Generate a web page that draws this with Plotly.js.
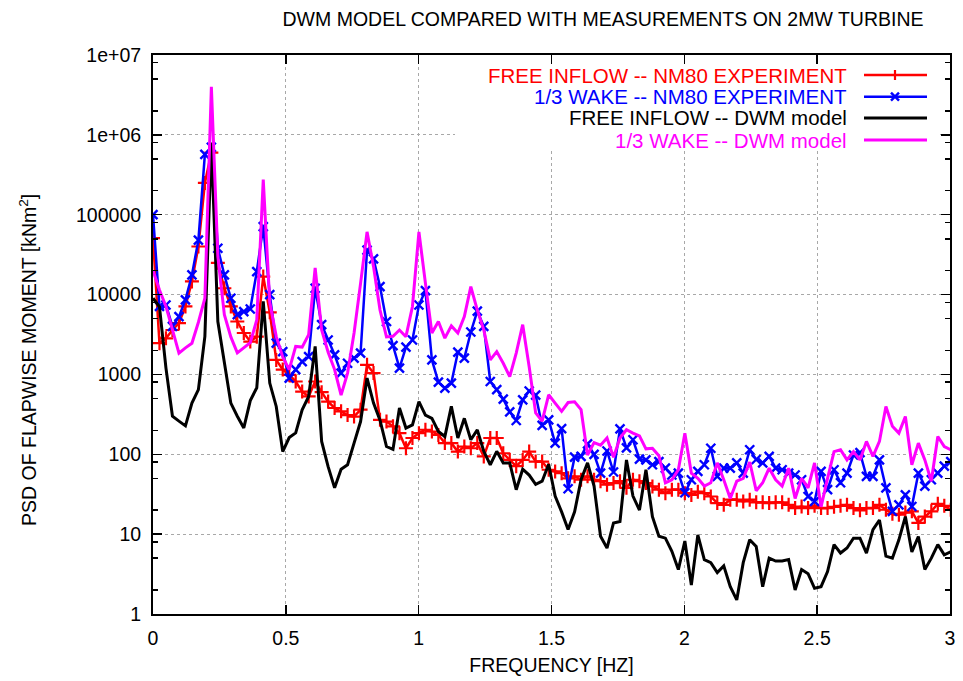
<!DOCTYPE html>
<html>
<head>
<meta charset="utf-8">
<script src="https://cdn.plot.ly/plotly-3.0.1.min.js"></script>
<style>
html,body{margin:0;padding:0;background:#fff;}
#chart{width:963px;height:681px;}
</style>
</head>
<body>
<div id="chart"></div>
<script>
// Frequency bins [Hz]
const freq = [0,0.0244,0.0488,0.0732,0.0977,0.1221,0.1465,0.1709,0.1953,0.2197,
0.2441,0.2686,0.2930,0.3174,0.3418,0.3662,0.3906,0.4150,0.4395,0.4639,
0.4883,0.5127,0.5371,0.5615,0.5859,0.6104,0.6348,0.6592,0.6836,0.7080,
0.7324,0.7568,0.7813,0.8057,0.8301,0.8545,0.8789,0.9033,0.9277,0.9521,
0.9766,1.0010,1.0254,1.0498,1.0742,1.0986,1.1230,1.1475,1.1719,1.1963,
1.2207,1.2451,1.2695,1.2939,1.3184,1.3428,1.3672,1.3916,1.4160,1.4404,
1.4648,1.4893,1.5137,1.5381,1.5625,1.5869,1.6113,1.6357,1.6602,1.6846,
1.7090,1.7334,1.7578,1.7822,1.8066,1.8311,1.8555,1.8799,1.9043,1.9287,
1.9531,1.9775,2.0020,2.0264,2.0508,2.0752,2.0996,2.1240,2.1484,2.1729,
2.1973,2.2217,2.2461,2.2705,2.2949,2.3193,2.3438,2.3682,2.3926,2.4170,
2.4414,2.4658,2.4902,2.5146,2.5391,2.5635,2.5879,2.6123,2.6367,2.6611,
2.6855,2.7100,2.7344,2.7588,2.7832,2.8076,2.8320,2.8564,2.8809,2.9053,
2.9297,2.9541,2.9785,3.0029];

// FREE INFLOW -- NM80 EXPERIMENT
const freeInflowExp = [51000,2460,2830,3600,4400,7100,14600,40000,250000,600000,
25000,12000,7100,4600,3300,2580,2970,16800,6000,1520,
1150,990,815,610,530,815,600,457,380,345,
310,297,362,1320,1040,270,257,224,184,119,
160,184,203,193,175,138,138,108,125,119,
138,94,160,160,103,85,71,85,108,81,
81,64,61,58,50,53,48,53,48,46,
41.6,43.6,46,38,48,46,43.6,39.6,36,32.6,
36,36,32.6,31,34,32.6,29.6,24.5,23.3,27,
27,25.7,27,25,25,24.5,25,25,23.3,21.2,
22.2,21.2,22.6,21.2,21.2,22,22.6,23.3,21.2,19.9,
21.2,21.2,23.3,20.2,18,17.5,18.6,19.3,13.8,16.6,
19.3,24,22.6,20.2];

// 1/3 WAKE -- NM80 EXPERIMENT
const wakeExp = [100000,7100,7400,4000,5300,8600,17600,48000,570000,700000,
38000,17600,9000,5600,6100,6600,19400,71000,10000,2460,
1930,900,1150,1450,1670,12000,4200,2700,1760,1040,
1380,1600,1850,36000,28000,12600,4600,2300,1200,2200,
2700,7400,11200,1520,800,675,780,1900,1600,3400,
6200,4000,815,645,490,340,265,480,620,550,
230,270,138,210,37,92,94,135,100,58,
110,60,208,120,152,87,85,74,81,67,
55,58,33,48,61,74,119,53,67,67,
78,58,114,86,78,94,67,64,58,55,
48,29.6,25.7,61,36,64,44,58,98,105,
53,53,85,38,19.3,23.3,31,22.2,58,40,
48,58,71,81];

// FREE INFLOW -- DWM model
const freeInflowDwm = [9000,7000,1200,300,260,227,437,645,3000,800000,
4600,1390,437,300,214,470,680,8200,780,397,
108,162,185,360,530,2240,145,70,38,65,
74,138,257,900,437,268,125,115,380,213,
233,457,309,282,193,167,398,160,282,152,
202,109,74,109,78,78,36,65,55,42,
46,75,30,19,11.4,19,48,78,40,9.4,
6.7,13.8,14.4,85,30,20,64,16.5,9.4,8.9,
6.1,3.6,8.2,2.3,9.8,4.8,4.4,3.3,4.0,2.2,
1.5,4.4,8.5,7.0,2.2,5.0,4.6,4.6,4.8,2.0,
3.6,3.2,2.1,2.2,3.4,7.4,5.8,6.7,8.9,8.9,
5.8,11.4,15,5.3,5.0,8.5,16.6,6.0,9.3,3.6,
5.0,7.4,5.5,6.0];

// 1/3 WAKE -- DWM model
const wakeDwm = [20000,11400,7100,3600,1850,2150,2460,4500,9000,4000000,
30000,5600,2950,1860,2150,2500,4800,275000,8000,3000,
1660,1150,2240,2200,3150,21500,3600,1900,1150,550,
1040,3300,13800,61000,22400,6400,2950,3000,3600,2970,
7100,61000,13900,3300,4600,2850,4050,3300,5300,12600,
6400,3600,1520,1930,1380,940,1850,4200,1250,330,
260,556,437,345,445,455,362,98,140,130,
160,92,160,203,184,170,117,119,96,44,
48,64,184,58,50,40,44,78,48,28,
46,50,80,35,44,67,48,40,67,28,
50,38,78,22,50,108,114,85,108,85,
145,94,145,397,224,184,297,74,138,85,
46,167,125,114];

const seriesNames = ['FREE INFLOW -- NM80 EXPERIMENT','1/3 WAKE -- NM80 EXPERIMENT',
                     'FREE INFLOW -- DWM model','1/3 WAKE -- DWM model'];
const xTickVals = [0,0.5,1,1.5,2,2.5,3];
const xTickText = ['0','0.5','1','1.5','2','2.5','3'];
const yTickVals = [1,10,100,1000,10000,100000,1e6,1e7];
const yTickText = ['1','10','100','1000','10000','100000','1e+06','1e+07'];
const yMinorVals = [];
[1,10,100,1000,10000,100000,1e6].forEach(d => [2,5,8].forEach(m => yMinorVals.push(m*d)));

const FONT = 'Liberation Sans, Arial, Helvetica, sans-serif';
const RED='#ff0000', BLUE='#0000ff', BLACK='#000000', MAG='#ff00ff';

const traces = [
  {x:freq, y:freeInflowExp, name:seriesNames[0], type:'scatter', mode:'lines+markers',
   line:{color:RED,width:2.5}, marker:{symbol:'cross-thin',size:10,line:{color:RED,width:2.2}}},
  {x:freq, y:wakeExp, name:seriesNames[1], type:'scatter', mode:'lines+markers',
   line:{color:BLUE,width:2.5}, marker:{symbol:'x-thin',size:9,line:{color:BLUE,width:2.4}}},
  {x:freq, y:freeInflowDwm, name:seriesNames[2], type:'scatter', mode:'lines',
   line:{color:BLACK,width:3}},
  {x:freq, y:wakeDwm, name:seriesNames[3], type:'scatter', mode:'lines',
   line:{color:MAG,width:3}}
];

// helpers for legend placement in paper coordinates (plot area 153..950 x 55..614 px)
const PX = p => (p-153)/797, PY = p => (614-p)/559;
const rows = [75, 96.7, 118, 140];
const cols = [RED, BLUE, BLACK, MAG];
const shapes = [
  {type:'rect', xref:'paper', yref:'paper', x0:PX(455), x1:PX(940), y0:PY(150), y1:PY(64),
   fillcolor:'#ffffff', line:{width:0}, layer:'above'}
];
const annotations = [];
rows.forEach((ry,i) => {
  shapes.push({type:'line', xref:'paper', yref:'paper', x0:PX(864), x1:PX(927), y0:PY(ry), y1:PY(ry),
    line:{color:cols[i], width:(i<2?2.5:3)}, layer:'above'});
  annotations.push({xref:'paper', yref:'paper', x:PX(849), y:PY(ry), xanchor:'right', yanchor:'middle',
    text:seriesNames[i], showarrow:false, font:{family:FONT, size:20.5, color:cols[i]}});
});
// legend marker glyphs
shapes.push({type:'line', xref:'paper', yref:'paper', x0:PX(895), x1:PX(895), y0:PY(rows[0]-5), y1:PY(rows[0]+5),
  line:{color:RED,width:2.2}, layer:'above'});
shapes.push({type:'line', xref:'paper', yref:'paper', x0:PX(891), x1:PX(899), y0:PY(rows[1]-4), y1:PY(rows[1]+4),
  line:{color:BLUE,width:2.4}, layer:'above'});
shapes.push({type:'line', xref:'paper', yref:'paper', x0:PX(891), x1:PX(899), y0:PY(rows[1]+4), y1:PY(rows[1]-4),
  line:{color:BLUE,width:2.4}, layer:'above'});

// y-axis title
annotations.push({xref:'paper', yref:'paper', x:PX(28), y:PY(360), textangle:-90,
  xanchor:'center', yanchor:'middle', showarrow:false,
  text:'PSD OF FLAPWISE MOMENT [kNm<sup>2</sup>]', font:{family:FONT, size:19.5, color:'#000'}});

const axisCommon = {
  showline:true, linecolor:'#000', linewidth:2, mirror:'ticks',
  ticks:'inside', ticklen:9, tickwidth:1.5, tickcolor:'#000',
  showgrid:true, gridcolor:'#a8a8a8', griddash:'dot', gridwidth:1,
  zeroline:false, tickfont:{family:FONT, size:19.5, color:'#000'}
};

const layout = {
  width:963, height:681,
  margin:{l:153, r:13, t:55, b:67},
  paper_bgcolor:'#fff', plot_bgcolor:'#fff',
  showlegend:false,
  font:{family:FONT, color:'#000'},
  title:{text:'DWM MODEL COMPARED WITH MEASUREMENTS ON 2MW TURBINE',
         font:{family:FONT, size:19.5, color:'#000'},
         x:603/963, xanchor:'center', y:1-19/681, yanchor:'middle'},
  xaxis:Object.assign({}, axisCommon, {
    range:[0,3], tickmode:'array', tickvals:xTickVals, ticktext:xTickText,
    ticklabelstandoff:6,
    title:{text:'FREQUENCY [HZ]', font:{family:FONT, size:19.5, color:'#000'}, standoff:10}
  }),
  yaxis:Object.assign({}, axisCommon, {
    type:'log', range:[0,7], tickmode:'array', tickvals:yTickVals, ticktext:yTickText,
    ticklabelstandoff:6,
    minor:{tickmode:'array', tickvals:yMinorVals, ticks:'inside', ticklen:5, tickwidth:1.5,
           tickcolor:'#000', showgrid:false}
  }),
  shapes:shapes,
  annotations:annotations
};

Plotly.newPlot('chart', traces, layout, {displayModeBar:false, staticPlot:true});
</script>
</body>
</html>
